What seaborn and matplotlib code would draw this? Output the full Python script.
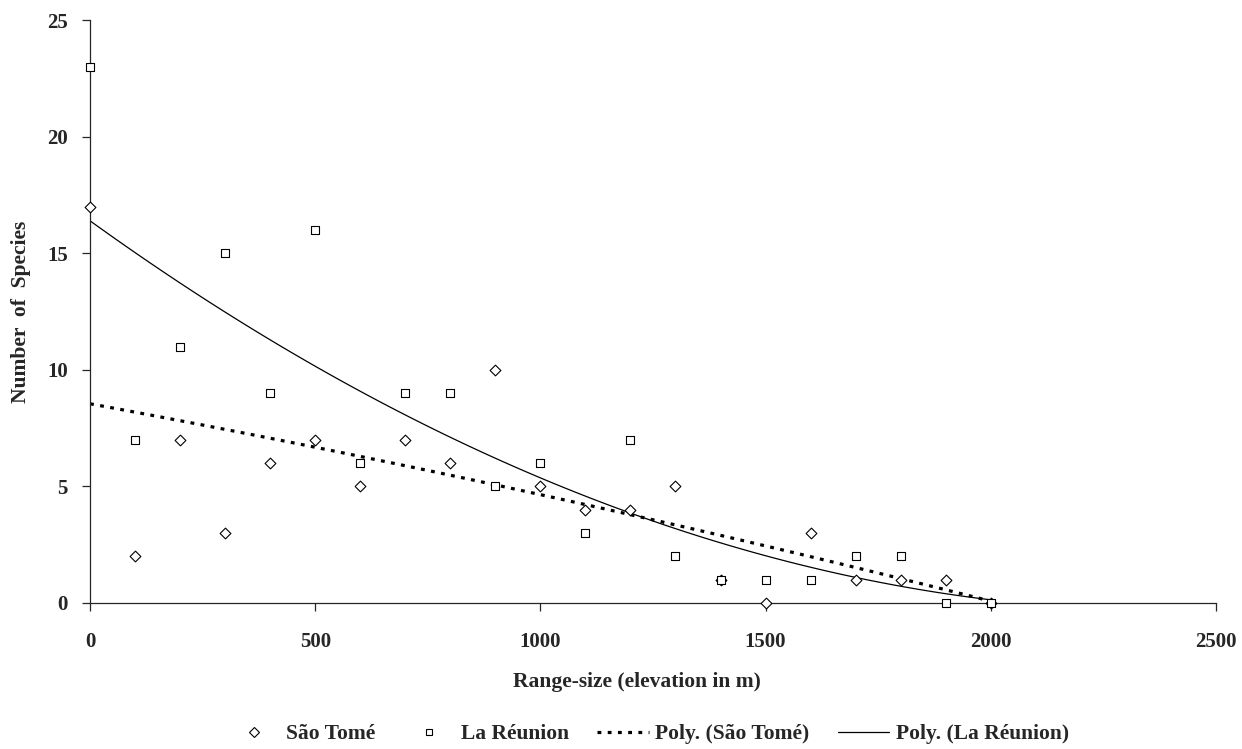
import numpy as np
import pandas as pd
import seaborn as sns
import matplotlib.pyplot as plt
from matplotlib.lines import Line2D

# elevation range-size classes (m)
elevation = [0, 100, 200, 300, 400, 500, 600, 700, 800, 900, 1000,
             1100, 1200, 1300, 1400, 1500, 1600, 1700, 1800, 1900, 2000]
sao_tome = [17, 2, 7, 3, 6, 7, 5, 7, 6, 10, 5, 4, 4, 5, 1, 0, 3, 1, 1, 1, 0]
la_reunion = [23, 7, 11, 15, 9, 16, 6, 9, 9, 5, 6, 3, 7, 2, 1, 1, 1, 2, 2, 0, 0]

x_ticks = [0, 500, 1000, 1500, 2000, 2500]
y_ticks = [0, 5, 10, 15, 20, 25]

df = pd.DataFrame({"elevation": elevation, "sao_tome": sao_tome, "la_reunion": la_reunion})

sns.set_style("ticks")
plt.rcParams["font.family"] = ["Liberation Serif", "DejaVu Serif"]
plt.rcParams["font.weight"] = "bold"

dotted = (0, (1.2, 2.0))

fig = plt.figure(figsize=(12.42, 7.49), dpi=100)
ax = fig.add_axes([0.0725, 0.195, 0.9065, 0.778])

# polynomial (order 2) trend lines, like Excel's "Poly." trendline
sns.regplot(data=df, x="elevation", y="sao_tome", order=2, ci=None, scatter=False,
            ax=ax, line_kws=dict(color="black", lw=2.3, linestyle=dotted))
sns.regplot(data=df, x="elevation", y="la_reunion", order=2, ci=None, scatter=False,
            ax=ax, line_kws=dict(color="black", lw=0.9))

sns.scatterplot(data=df, x="elevation", y="sao_tome", marker="D", s=30,
                facecolor="white", edgecolor="black", linewidth=0.8, ax=ax,
                clip_on=False, zorder=3)
sns.scatterplot(data=df, x="elevation", y="la_reunion", marker="s", s=40,
                facecolor="white", edgecolor="black", linewidth=0.8, ax=ax,
                clip_on=False, zorder=3)

ax.set_xlim(0, 2500)
ax.set_ylim(0, 25)
ax.set_xticks(x_ticks)
ax.set_yticks(y_ticks)
sns.despine(ax=ax)
for s in ["left", "bottom"]:
    ax.spines[s].set_linewidth(0.9)
ax.tick_params(axis="x", direction="out", length=6, width=0.9, pad=15, labelsize=15)
ax.tick_params(axis="y", direction="out", length=6, width=0.9, pad=10, labelsize=15)
for lab in ax.get_xticklabels() + ax.get_yticklabels():
    lab.set_fontweight("bold")

ax.set_xlabel("Range-size (elevation in m)", fontsize=15.5, fontweight="bold")
ax.set_ylabel("Number  of  Species", fontsize=15.5, fontweight="bold")
ax.xaxis.set_label_coords(0.486, -0.118)
ax.yaxis.set_label_coords(-0.052, 0.5)

handles = [
    Line2D([], [], marker="D", ls="none", markersize=5, markerfacecolor="white",
           markeredgecolor="black", markeredgewidth=0.8),
    Line2D([], [], marker="s", ls="none", markersize=5, markerfacecolor="white",
           markeredgecolor="black", markeredgewidth=0.8),
    Line2D([], [], color="black", lw=2.3, linestyle=dotted),
    Line2D([], [], color="black", lw=0.9),
]
labels = ["São Tomé", "La Réunion", "Poly. (São Tomé)", "Poly. (La Réunion)"]
fig.legend(handles, labels, loc="center", bbox_to_anchor=(0.522, 0.02), ncol=4,
           frameon=False, prop=dict(size=15.5, weight="bold"), handlelength=2.4,
           columnspacing=1.3, handletextpad=0.3)

fig.savefig("out.png", dpi=100)
